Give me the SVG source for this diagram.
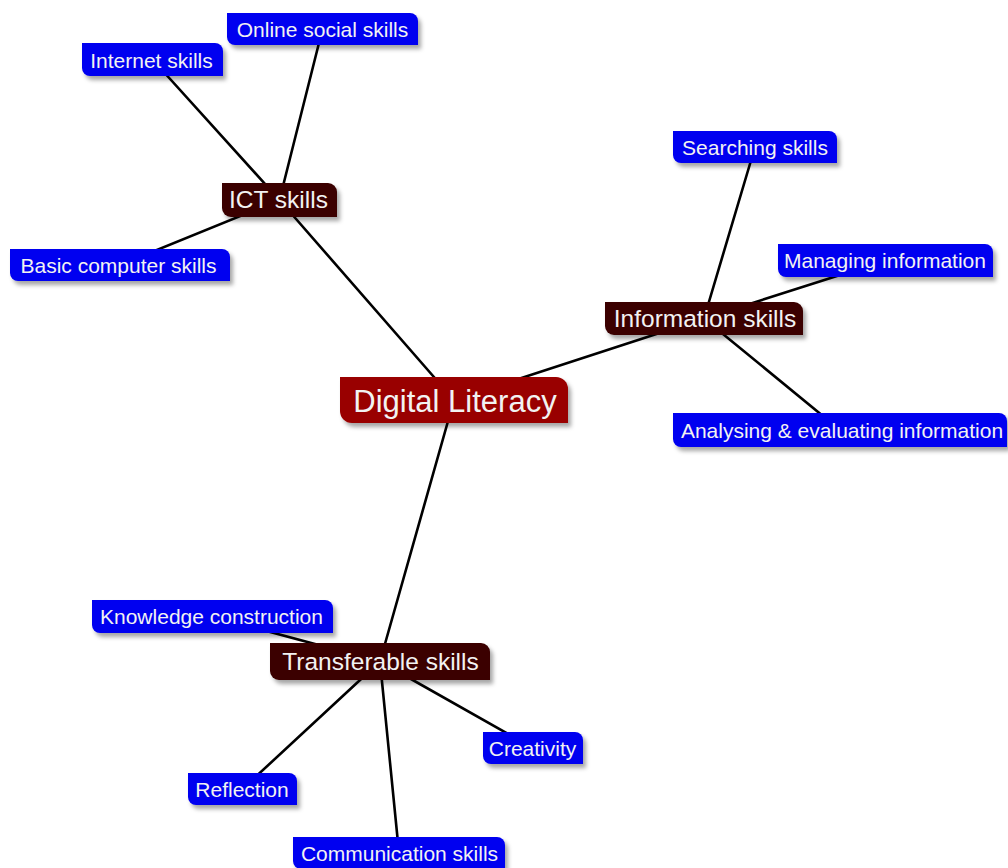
<svg xmlns="http://www.w3.org/2000/svg" width="1008" height="868" viewBox="0 0 1008 868">
<style>
.bg{fill:#ffffff}
.conn line{stroke:#000000;stroke-width:2.6;stroke-linecap:round}
.leaf{fill:#0000f0;filter:url(#sh)}
.sub{fill:#3a0202;filter:url(#sh)}
.root{fill:#990000;filter:url(#sh)}
text{font-family:"Liberation Sans",Arial,sans-serif;fill:#f2f2f2;text-anchor:middle}
.lt{font-size:21px}
.st{font-size:24.5px}
.rt{font-size:31px}
</style>
<defs>
<filter id="sh" x="-10%" y="-30%" width="120%" height="170%">
<feDropShadow dx="3" dy="4" stdDeviation="2" flood-color="#000000" flood-opacity="0.35"/>
</filter>
</defs>
<rect class="bg" x="0" y="0" width="1008" height="868"/>
<g id="connectors" class="conn">
<line x1="454" y1="400" x2="279.5" y2="200"/>
<line x1="454" y1="400" x2="704" y2="318.5"/>
<line x1="454" y1="400" x2="380" y2="661.5"/>
<line x1="279.5" y1="200" x2="322.5" y2="29"/>
<line x1="279.5" y1="200" x2="152.5" y2="59.5"/>
<line x1="279.5" y1="200" x2="120" y2="265"/>
<line x1="704" y1="318.5" x2="755" y2="147"/>
<line x1="704" y1="318.5" x2="885.5" y2="260.5"/>
<line x1="704" y1="318.5" x2="840" y2="430"/>
<line x1="380" y1="661.5" x2="212.5" y2="616.5"/>
<line x1="380" y1="661.5" x2="533" y2="748"/>
<line x1="380" y1="661.5" x2="242.5" y2="789"/>
<line x1="380" y1="661.5" x2="399" y2="853"/>
</g>
<g id="digital-literacy">
<path class="root" d="M340,377 H556 A12,12 0 0 1 568,389 V423 H352 A12,12 0 0 1 340,411 Z"/>
<text class="rt" x="455" y="412">Digital Literacy</text>
</g>
<g id="ict-skills">
<path class="sub" d="M222,183 H328 A9,9 0 0 1 337,192 V217 H231 A9,9 0 0 1 222,208 Z"/>
<text class="st" x="278.5" y="208">ICT skills</text>
</g>
<g id="information-skills">
<path class="sub" d="M605,302 H794 A9,9 0 0 1 803,311 V335 H614 A9,9 0 0 1 605,326 Z"/>
<text class="st" x="705" y="327">Information skills</text>
</g>
<g id="transferable-skills">
<path class="sub" d="M270,643 H481 A9,9 0 0 1 490,652 V680 H279 A9,9 0 0 1 270,671 Z"/>
<text class="st" x="380.5" y="670">Transferable skills</text>
</g>
<g id="online-social-skills">
<path class="leaf" d="M227,13 H410 A8,8 0 0 1 418,21 V45 H235 A8,8 0 0 1 227,37 Z"/>
<text class="lt" x="322.5" y="37">Online social skills</text>
</g>
<g id="internet-skills">
<path class="leaf" d="M82,43 H215 A8,8 0 0 1 223,51 V76 H90 A8,8 0 0 1 82,68 Z"/>
<text class="lt" x="151.5" y="68">Internet skills</text>
</g>
<g id="basic-computer-skills">
<path class="leaf" d="M10,249 H222 A8,8 0 0 1 230,257 V281 H18 A8,8 0 0 1 10,273 Z"/>
<text class="lt" x="118.5" y="273">Basic computer skills</text>
</g>
<g id="searching-skills">
<path class="leaf" d="M673,131 H829 A8,8 0 0 1 837,139 V163 H681 A8,8 0 0 1 673,155 Z"/>
<text class="lt" x="755" y="155">Searching skills</text>
</g>
<g id="managing-information">
<path class="leaf" d="M778,244 H985 A8,8 0 0 1 993,252 V277 H786 A8,8 0 0 1 778,269 Z"/>
<text class="lt" x="885" y="268">Managing information</text>
</g>
<g id="analysing-evaluating">
<path class="leaf" d="M673,413 H999 A8,8 0 0 1 1007,421 V447 H681 A8,8 0 0 1 673,439 Z"/>
<text class="lt" x="842" y="438">Analysing &amp; evaluating information</text>
</g>
<g id="knowledge-construction">
<path class="leaf" d="M92,600 H325 A8,8 0 0 1 333,608 V633 H100 A8,8 0 0 1 92,625 Z"/>
<text class="lt" x="211.5" y="624">Knowledge construction</text>
</g>
<g id="creativity">
<path class="leaf" d="M483,732 H575 A8,8 0 0 1 583,740 V764 H491 A8,8 0 0 1 483,756 Z"/>
<text class="lt" x="532.5" y="756">Creativity</text>
</g>
<g id="reflection">
<path class="leaf" d="M188,773 H289 A8,8 0 0 1 297,781 V805 H196 A8,8 0 0 1 188,797 Z"/>
<text class="lt" x="242" y="797">Reflection</text>
</g>
<g id="communication-skills">
<path class="leaf" d="M293,837 H497 A8,8 0 0 1 505,845 V869 H301 A8,8 0 0 1 293,861 Z"/>
<text class="lt" x="399.5" y="861">Communication skills</text>
</g>
</svg>
